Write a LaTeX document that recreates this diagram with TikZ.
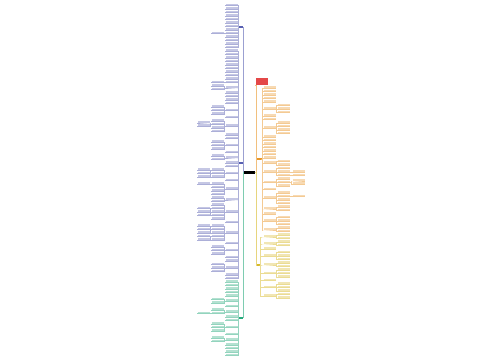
\documentclass[tikz,border=0pt]{standalone}
\usepackage{tikz}

\definecolor{bcol}{RGB}{88,96,178}
\definecolor{gcol}{RGB}{40,170,125}
\definecolor{ocol}{RGB}{232,150,40}
\definecolor{ycol}{RGB}{215,185,40}
\definecolor{rcol}{RGB}{228,72,72}

\tikzset{
  leaf/.style={minimum width=12pt, minimum height=1.8pt, inner sep=0pt},
  mainnode/.style={minimum width=4pt, minimum height=2pt, inner sep=0pt}
}

% children growing to the left: parent anchor, name prefix, x, colour, rows
\newcommand{\lsub}[5]{%
  \foreach \y [count=\k] in {#5} {
    \node[leaf, fill=#4!35] (#2\k) at (#3,\y) {};
    \draw[#4!50, line width=0.3pt] (#1) -- ++(-0.8,0) |- (#2\k.south east) -- (#2\k.south west);
  }}
% children growing to the right
\newcommand{\rsub}[5]{%
  \foreach \y [count=\k] in {#5} {
    \node[leaf, fill=#4!35] (#2\k) at (#3,\y) {};
    \draw[#4!50, line width=0.3pt] (#1) -- ++(0.8,0) |- (#2\k.south west) -- (#2\k.south east);
  }}

\begin{document}
\begin{tikzpicture}[x=1pt, y=-1pt]
  \useasboundingbox (0,0) rectangle (500,360);

  % root and main branches
  \node[fill=black, minimum width=11pt, minimum height=3pt, inner sep=0pt] (root) at (249,172.5) {};
  \node[mainnode, fill=bcol] (blueA) at (241,26.5) {};
  \node[mainnode, fill=bcol] (blueB) at (241,163) {};
  \node[mainnode, fill=gcol] (greenC) at (241,318) {};
  \node[fill=rcol, minimum width=12pt, minimum height=7pt, inner sep=0pt] (redA) at (261.5,81) {};
  \node[mainnode, fill=ocol, minimum width=5pt] (orangeB) at (259,159) {};
  \node[mainnode, fill=ycol, minimum width=3pt] (yellowC) at (258,265) {};

  \draw[bcol!60, line width=0.4pt] (root.west) -| (blueA.east);
  \draw[bcol!60, line width=0.4pt] (root.west) -| (blueB.east);
  \draw[gcol!60, line width=0.4pt] (root.west) -| (greenC.east);
  \draw[ocol!60, line width=0.4pt] (root.east) -- ++(1,0) |- (redA.south west);
  \draw[ocol!60, line width=0.4pt] (root.east) -- ++(1,0) |- (orangeB.west);
  \draw[ycol!60, line width=0.4pt] (root.east) -- ++(1,0) |- (yellowC.west);

  % blue branch A
  \lsub{blueA.west}{a}{231.5}{bcol}{4.5,8,11.5,15,18.5,22,25.5,29,32.5,36,39.5,43,46.5}
  \lsub{a9.south west}{a9c}{217.5}{bcol}{32.5}

  % blue branch B
  \lsub{blueB.west}{b}{231.5}{bcol}{50,53.5,57,60.5,64,67.5,71,74.5,78,81.5,86.75,92,95.5,99,102.5,109.5,116.5,125.25,134,137.5,144.5,151.5,156.75,162,165.5,172.5,179.5,188.25,198.75,211,221.5,232,242.5,249.5,256.5,260,267,274,277.5}
  \lsub{b10.south west}{b10c}{217.5}{bcol}{81.5}
  \lsub{b11.south west}{b11c}{217.5}{bcol}{85,88.5}
  \lsub{b16.south west}{b16c}{217.5}{bcol}{106,109.5,113}
  \lsub{b18.south west}{b18c}{217.5}{bcol}{120,123.5,127,130.5}
  \lsub{b18c2.south west}{b18c2c}{203.5}{bcol}{121.75,125.25}
  \lsub{b21.south west}{b21c}{217.5}{bcol}{141,144.5,148}
  \lsub{b23.south west}{b23c}{217.5}{bcol}{155,158.5}
  \lsub{b26.south west}{b26c}{217.5}{bcol}{169,172.5,176}
  \lsub{b26c2.south west}{b26c2c}{203.5}{bcol}{169,172.5,176}
  \lsub{b28.south west}{b28c}{217.5}{bcol}{183,186.5,190,193.5}
  \lsub{b28c1.south west}{b28c1c}{203.5}{bcol}{183}
  \lsub{b29.south west}{b29c}{217.5}{bcol}{197,200.5}
  \lsub{b30.south west}{b30c}{217.5}{bcol}{204,207.5,211,214.5,218}
  \lsub{b30c3.south west}{b30c3c}{203.5}{bcol}{207.5,211,214.5}
  \lsub{b32.south west}{b32c}{217.5}{bcol}{225,228.5,232,235.5,239}
  \lsub{b32c2.south west}{b32c2c}{203.5}{bcol}{225,228.5,232}
  \lsub{b32c4.south west}{b32c4c}{203.5}{bcol}{235.5,239}
  \lsub{b34.south west}{b34c}{217.5}{bcol}{246,249.5,253}
  \lsub{b37.south west}{b37c}{217.5}{bcol}{263.5,267,270.5}

  % green branch C
  \lsub{greenC.west}{g}{231.5}{gcol}{281,284.5,288,291.5,295,300.25,305.5,310.75,316,319.5,326.5,333.5,338.75,344,347.5,351,354.5}
  \lsub{g6.south west}{g6c}{217.5}{gcol}{298.5,302}
  \lsub{g8.south west}{g8c}{217.5}{gcol}{309,312.5}
  \lsub{g8c2.south west}{g8c2c}{203.5}{gcol}{312.5}
  \lsub{g11.south west}{g11c}{217.5}{gcol}{323,326.5,330}
  \lsub{g13.south west}{g13c}{217.5}{gcol}{337,340.5}

  % orange branch B
  \rsub{orangeB.east}{o}{269.5}{ocol}{87,90.5,94,97.5,101,108,115,118.5,127.25,136,139.5,143,146.5,150,153.5,157,162.25,171,181.5,188.5,197.25,207.75,213,220,228.75}
  \rsub{o6.south east}{o6c}{284}{ocol}{104.5,108,111.5}
  \rsub{o9.south east}{o9c}{284}{ocol}{122,125.5,129,132.5}
  \rsub{o17.south east}{o17c}{284}{ocol}{160.5,164}
  \rsub{o18.south east}{o18c}{284}{ocol}{167.5,171,174.5}
  \rsub{o18c2.south east}{o18c2c}{298.5}{ocol}{171}
  \rsub{o18c3.south east}{o18c3c}{298.5}{ocol}{174.5}
  \rsub{o19.south east}{o19c}{284}{ocol}{178,181.5,185}
  \rsub{o19c2.south east}{o19c2c}{298.5}{ocol}{179.75,183.25}
  \rsub{o21.south east}{o21c}{284}{ocol}{192,195.5,199,202.5}
  \rsub{o21c2.south east}{o21c2c}{298.5}{ocol}{195.5}
  \rsub{o22.south east}{o22c}{284}{ocol}{206,209.5}
  \rsub{o24.south east}{o24c}{284}{ocol}{216.5,220,223.5}
  \rsub{o25.south east}{o25c}{284}{ocol}{227,230.5}

  % yellow branch C
  \rsub{yellowC.east}{y}{269.5}{ycol}{235.75,242.75,248,255,263.75,272.5,279.5,286.5,295.25}
  \rsub{y1.south east}{y1c}{284}{ycol}{234,237.5}
  \rsub{y2.south east}{y2c}{284}{ycol}{241,244.5}
  \rsub{y4.south east}{y4c}{284}{ycol}{251.5,255,258.5}
  \rsub{y5.south east}{y5c}{284}{ycol}{262,265.5}
  \rsub{y6.south east}{y6c}{284}{ycol}{269,272.5,276}
  \rsub{y8.south east}{y8c}{284}{ycol}{283,286.5,290}
  \rsub{y9.south east}{y9c}{284}{ycol}{293.5,297}
\end{tikzpicture}
\end{document}
